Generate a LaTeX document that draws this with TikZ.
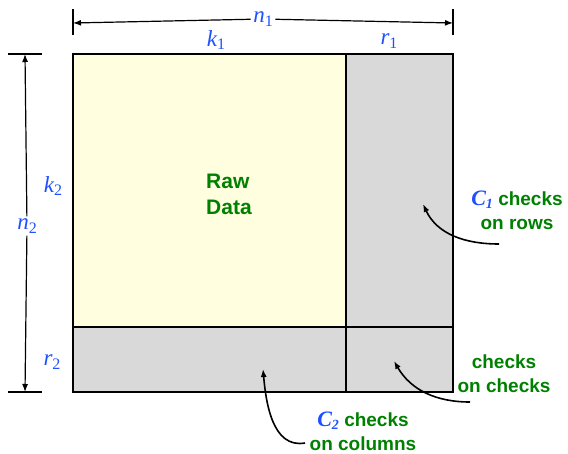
\documentclass[tikz,border=0pt]{standalone}
\usepackage{fontspec}
\setmainfont{Liberation Sans}
\newfontfamily\timesfam{Liberation Serif}
\usetikzlibrary{arrows.meta}
\definecolor{rawfill}{RGB}{255,255,224}
\definecolor{chkgray}{RGB}{217,217,217}
\definecolor{labblue}{RGB}{30,80,255}
\definecolor{labgreen}{RGB}{0,128,0}
\newcommand{\dimsym}[2]{{\itshape #1}\raisebox{-0.3ex}{\fontsize{16}{16}\selectfont #2}}
\newcommand{\chksym}[1]{{\color{labblue}\timesfam\bfseries\itshape\fontsize{22}{24}\selectfont C\raisebox{-0.35ex}{\fontsize{14}{14}\selectfont #1}}}

\begin{document}
\begin{tikzpicture}[x=1pt,y=-1pt,line width=1.2pt,>={Latex[length=8pt,width=6pt]},
  dimlab/.style={text=labblue,inner sep=2pt,font=\timesfam\fontsize{23}{24}\selectfont},
  note/.style={text=labgreen,align=center,inner sep=0pt,font=\fontsize{19}{24}\selectfont\bfseries},
  pointer/.style={line width=1.6pt,->}]
  \useasboundingbox (0,0) rectangle (568,453);
  % corners of the block
  \coordinate (A) at (73,54);
  \coordinate (B) at (453,54);
  \coordinate (C) at (453,392);
  \coordinate (D) at (73,392);
  \coordinate (P) at (346,54);
  \coordinate (Q) at (73,327);
  \coordinate (X) at (346,327);
  \coordinate (Pb) at (346,392);
  \coordinate (Qr) at (453,327);
  \fill[rawfill] (A) rectangle (X);
  \fill[chkgray] (P) rectangle (C);
  \fill[chkgray] (Q) rectangle (C);
  \draw[line width=1.6pt] (X) -- (Pb) (X) -- (Qr);
  \draw[line width=2.4pt] (P) -- (X) -- (Q);
  \draw[line width=1.8pt] (A) rectangle (C);
  % top dimension
  \coordinate (tL) at (73,23);
  \coordinate (tR) at (453,23);
  \draw (73,9) -- (73,35) (453,9) -- (453,35);
  \node[dimlab] (n1) at (263,19) {\dimsym{n}{1}};
  \draw[->] (n1) -- (tL);
  \draw[->] (n1) -- (tR);
  \node[dimlab] (k1) at (216,40) {\dimsym{k}{1}};
  \node[dimlab] (r1) at (389,41) {\dimsym{r}{1}};
  % left dimension
  \coordinate (sT) at (25,54);
  \coordinate (sB) at (25,392);
  \draw (8,54) -- (42,54) (8,392) -- (42,392);
  \node[dimlab] (n2) at (27,226) {\dimsym{n}{2}};
  \draw[->] (n2) -- (sT);
  \draw[->] (n2) -- (sB);
  \node[dimlab] (k2) at (53,186) {\dimsym{k}{2}};
  \node[dimlab] (r2) at (52,362) {\dimsym{r}{2}};
  % texts
  \node[note,align=left,font=\fontsize{21}{26}\selectfont\bfseries] (raw) at (229,194) {Raw\\Data};
  \node[note] (rows) at (517,210) {\chksym{1} checks\\on rows};
  \node[note] (cc) at (504,374) {checks\\on checks};
  \node[note] (cols) at (363,431) {\chksym{2} checks\\on columns};
  % pointers
  \coordinate (rowsT) at (499,244);
  \coordinate (rowsH) at (423,204);
  \coordinate (ccT) at (470,402);
  \coordinate (ccH) at (394,361);
  \coordinate (colsT) at (305,443);
  \coordinate (colsH) at (263,369);
  \draw[pointer] (rowsT) to[out=180,in=-65] (rowsH);
  \draw[pointer] (ccT) to[out=180,in=-60] (ccH);
  \draw[pointer] (colsT) to[out=190,in=-85] (colsH);
\end{tikzpicture}
\end{document}
